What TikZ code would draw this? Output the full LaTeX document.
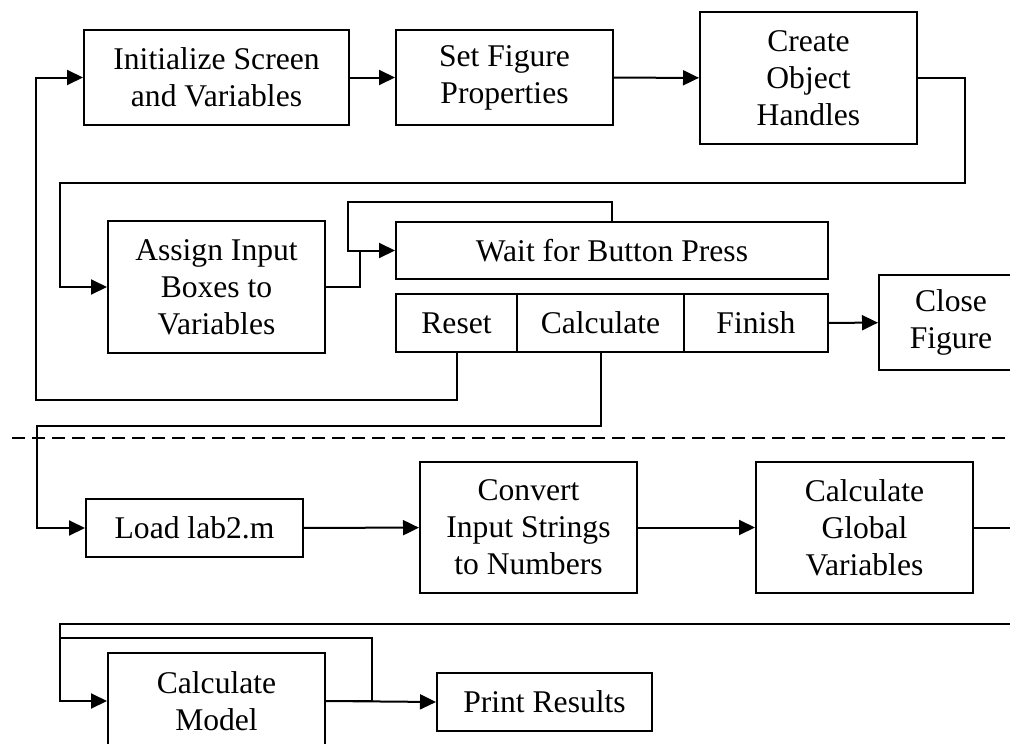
\documentclass[tikz,border=0pt]{standalone}
\usepackage{fontspec}
\setmainfont{Liberation Serif}
\usetikzlibrary{arrows.meta}
\begin{document}
\begin{tikzpicture}[x=1pt,y=-1pt,
  line width=2pt,
  box/.style={draw, rectangle, inner sep=0pt, align=center,
    font=\fontsize{31.6}{37}\selectfont},
  flow/.style={-{Triangle[length=16pt,width=15pt]}},
  link/.style={line join=miter}]
\path[use as bounding box, clip] (0,0) rectangle (1010,744);

% setup stage
\node[box, minimum width=265pt, minimum height=95pt] (init) at (216.5,77.5) {Initialize Screen\\and Variables};
\node[box, minimum width=217pt, minimum height=95pt] (setfig) at (504.5,77.5) {Set Figure\\Properties};
\node[box, minimum width=217pt, minimum height=132pt] (create) at (808.5,78) {Create\\Object\\Handles};
\node[box, minimum width=217pt, minimum height=132pt] (assign) at (216.5,287) {Assign Input\\Boxes to\\Variables};
\node[box, minimum width=432pt, minimum height=57pt] (wait) at (612,250.5) {Wait for Button Press};
\node[box, minimum width=121pt, minimum height=58pt] (reset) at (456.5,323) {Reset};
\node[box, minimum width=167pt, minimum height=58pt] (calc) at (600.5,323) {Calculate};
\node[box, minimum width=144pt, minimum height=58pt] (finish) at (756,323) {Finish};
\node[box, minimum width=144pt, minimum height=95pt] (close) at (951,322.5) {Close\\Figure};

% computation stage
\node[box, minimum width=217pt, minimum height=58pt] (load) at (194.5,528) {Load lab2.m};
\node[box, minimum width=217pt, minimum height=131pt] (convert) at (528.5,527.5) {Convert\\Input Strings\\to Numbers};
\node[box, minimum width=217pt, minimum height=131pt] (global) at (864.5,527.5) {Calculate\\Global\\Variables};
\node[box, minimum width=217pt, minimum height=96pt] (model) at (216.5,701) {Calculate\\Model};
\node[box, minimum width=215pt, minimum height=58pt] (print) at (544.5,702) {Print Results};

\coordinate (gout) at (1015,527.5);
\coordinate (gin) at (1015,624);

% stage separator
\draw[dash pattern=on 13pt off 7pt] (12,438) -- (1010,438);

% connectors
\draw[flow] (init) -- (setfig);
\draw[flow] (setfig) -- (create);
\draw[flow, link] (create.east) -- (965,78) -- (965,183) -- (60,183) -- (60,287) -- (assign.west);
\draw[flow, link] (assign.east) -- (360,287) -- (360,250.5) -- (wait.west);
\draw[link] (wait.north) -- (612,202) -- (348,202) -- (348,250.5) -- (360,250.5);
\draw[flow, link] (reset.south) -- (456.5,400) -- (36,400) -- (36,77.5) -- (init.west);
\draw[flow, link] (calc.south) -- (600.5,426) -- (37,426) -- (37,528) -- (load.west);
\draw[flow] (finish) -- (close);
\draw[flow] (load) -- (convert);
\draw[flow] (convert) -- (global);
\draw (global.east) -- (gout);
\draw[flow, link] (gin) -- (60,624) -- (60,701) -- (model.west);
\draw[link] (model.east) -- (372,701) -- (372,638) -- (60,638);
\draw[flow] (model.east) -- (print.west);
\end{tikzpicture}
\end{document}
